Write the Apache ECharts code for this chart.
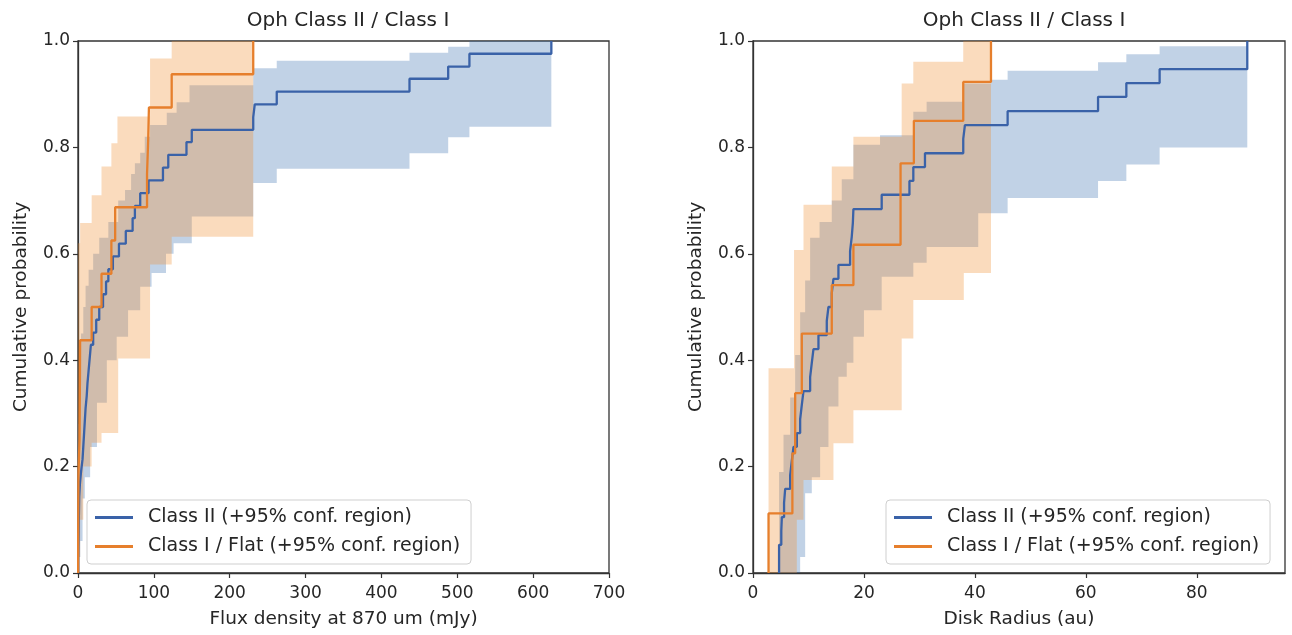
<!DOCTYPE html>
<html>
<head>
<meta charset="utf-8">
<script src="https://cdn.jsdelivr.net/npm/echarts@6/dist/echarts.min.js"></script>
<style>
  html, body { margin: 0; padding: 0; background: #fff; }
  #chart { width: 1292px; height: 635px; }
</style>
</head>
<body>
<div id="chart"></div>
<script>
// ---------- axis ticks ----------
const fluxTicks = [0, 100, 200, 300, 400, 500, 600, 700];
const radiusTicks = [0, 20, 40, 60, 80];
const probTicks = [0, 0.2, 0.4, 0.6, 0.8, 1.0];

const nameII = 'Class II (+95% conf. region)';
const nameI = 'Class I / Flat (+95% conf. region)';

// ---------- LEFT: flux density (mJy) ----------
// Class II cumulative step line
const fluxIIx = [0.3, 0.5, 0.8, 1.0, 1.3, 1.6, 2.5, 4, 6, 7, 8, 9, 10, 11.5, 12.5, 14, 15.5, 17, 20, 24, 28, 33, 37, 40, 46, 54, 63, 72, 75, 82, 93, 112, 119, 143, 150, 231, 233, 262, 437, 488, 516, 624];
const fluxIIp = [0.024, 0.048, 0.071, 0.095, 0.119, 0.143, 0.167, 0.190, 0.214, 0.238, 0.262, 0.286, 0.310, 0.333, 0.357, 0.381, 0.405, 0.429, 0.452, 0.476, 0.500, 0.524, 0.548, 0.571, 0.595, 0.619, 0.643, 0.667, 0.690, 0.714, 0.738, 0.762, 0.786, 0.810, 0.833, 0.857, 0.881, 0.905, 0.929, 0.952, 0.976, 1.0];
// Class I / Flat cumulative step line
const fluxIx = [0.2, 0.4, 0.6, 2.0, 2.3, 2.6, 2.8, 18, 31, 44, 49, 91, 92.5, 93.5, 123.5, 231];
const fluxIp = [0.0625, 0.125, 0.1875, 0.25, 0.3125, 0.375, 0.4375, 0.5, 0.5625, 0.625, 0.6875, 0.75, 0.8125, 0.875, 0.9375, 1.0];
// Class II confidence band (step edges: x starts + end, value per step)
const fluxIIHiX = [0, 1.6, 4, 7, 10, 14, 20, 28, 40, 53, 62, 70, 75, 82, 88, 95, 117, 130, 147, 231, 262, 437, 488, 516, 624];
const fluxIIHiP = [0.28, 0.38, 0.45, 0.5, 0.54, 0.57, 0.6, 0.63, 0.66, 0.70, 0.72, 0.75, 0.77, 0.79, 0.82, 0.842, 0.865, 0.885, 0.917, 0.949, 0.963, 0.978, 0.989, 1.0];
const fluxIILoX = [0, 1.6, 3, 6, 9, 16, 25, 38, 51, 66, 82, 97, 116, 126, 150, 231, 262, 437, 488, 516, 624];
const fluxIILoP = [0.0, 0.03, 0.06, 0.14, 0.18, 0.237, 0.32, 0.40, 0.444, 0.494, 0.538, 0.564, 0.6, 0.62, 0.67, 0.733, 0.76, 0.789, 0.819, 0.839];
// Class I / Flat confidence band
const fluxIHiX = [0, 2.8, 18, 31, 44, 52, 95, 123.5, 231];
const fluxIHiP = [0.62, 0.658, 0.71, 0.764, 0.808, 0.858, 0.967, 1.0];
const fluxILoX = [0, 2.8, 7, 18, 31, 53, 95, 123.5, 231];
const fluxILoP = [0.03, 0.1, 0.2, 0.245, 0.263, 0.403, 0.58, 0.632];

// ---------- RIGHT: disk radius (au) ----------
const radIIx = [4.7, 4.7, 5.1, 5.2, 5.6, 5.8, 6.7, 7.0, 7.3, 7.9, 8.5, 8.8, 9.1, 10.3, 10.6, 10.9, 11.8, 13.3, 13.6, 14.2, 14.5, 15.4, 17.5, 17.8, 18.0, 18.1, 23.2, 28.2, 28.9, 31.0, 37.9, 38.2, 45.9, 62.2, 67.3, 73.3, 89.1, 89.1];
const radIIp = [0.026, 0.053, 0.079, 0.105, 0.132, 0.158, 0.184, 0.211, 0.237, 0.263, 0.289, 0.316, 0.342, 0.368, 0.395, 0.421, 0.447, 0.474, 0.500, 0.526, 0.553, 0.579, 0.605, 0.632, 0.658, 0.684, 0.711, 0.737, 0.763, 0.789, 0.816, 0.842, 0.868, 0.895, 0.921, 0.947, 0.974, 1.0];
const radIx = [2.8, 7.1, 7.6, 8.8, 14.2, 18.1, 26.6, 26.6, 29.0, 37.9, 42.9];
const radIp = [0.112, 0.225, 0.338, 0.45, 0.541, 0.617, 0.694, 0.77, 0.85, 0.923, 1.0];
const radIIHiX = [4.7, 5.5, 6.7, 7.6, 8.5, 9.4, 10.3, 12.0, 14.2, 16.0, 18.1, 22.9, 28.9, 31.3, 37.9, 42.9, 45.9, 62.2, 67.3, 73.3, 89.1];
const radIIHiP = [0.19, 0.26, 0.33, 0.41, 0.49, 0.55, 0.63, 0.66, 0.70, 0.74, 0.805, 0.823, 0.867, 0.886, 0.92, 0.927, 0.944, 0.96, 0.975, 0.99];
const radIILoX = [4.7, 8.5, 9.4, 10.6, 12.1, 13.6, 15.4, 16.9, 18.1, 20.0, 23.2, 28.9, 31.3, 40.6, 45.9, 62.2, 67.3, 73.3, 89.1];
const radIILoP = [0.0, 0.03, 0.15, 0.18, 0.237, 0.313, 0.369, 0.395, 0.444, 0.494, 0.557, 0.583, 0.613, 0.676, 0.705, 0.737, 0.768, 0.80];
const radIHiX = [2.8, 7.4, 9.1, 14.2, 18.1, 26.8, 28.9, 37.9, 42.9];
const radIHiP = [0.385, 0.607, 0.692, 0.764, 0.82, 0.92, 0.961, 1.0];
const radILoX = [2.8, 7.9, 9.1, 14.5, 18.1, 26.8, 28.9, 38.0, 42.9];
const radILoP = [0.0, 0.1, 0.175, 0.244, 0.306, 0.441, 0.513, 0.564];

// ---------- styles ----------
const blueLine = '#3a62a8';
const orangeLine = '#e67f2c';
const blueFill = 'rgba(62,115,178,0.32)';
const orangeFill = 'rgba(240,142,50,0.32)';
const FONT = 'DejaVu Sans';
const TXT = '#262626';

function stepPairs(xs, ps) {
  const out = [[xs[0], 0]];
  for (let i = 0; i < xs.length; i++) out.push([xs[i], ps[i]]);
  return out;
}

function lineSeries(name, xi, xs, ps, color, z) {
  return {
    type: 'line', name: name, xAxisIndex: xi, yAxisIndex: xi,
    step: 'end', showSymbol: false, symbol: 'none',
    data: stepPairs(xs, ps),
    lineStyle: { color: color, width: 2.3 },
    itemStyle: { color: color },
    z: z, silent: true, animation: false
  };
}

function bandSeries(xi, hiX, hiP, loX, loP, color, z) {
  return {
    type: 'custom', xAxisIndex: xi, yAxisIndex: xi, silent: true, z: z,
    animation: false,
    data: [[hiX[0], hiP[0]]],
    encode: { x: 0, y: 1 },
    renderItem: function (params, api) {
      const pts = [];
      for (let i = 0; i < hiP.length; i++) {
        pts.push(api.coord([hiX[i], hiP[i]]));
        pts.push(api.coord([hiX[i + 1], hiP[i]]));
      }
      for (let i = loP.length - 1; i >= 0; i--) {
        pts.push(api.coord([loX[i + 1], loP[i]]));
        pts.push(api.coord([loX[i], loP[i]]));
      }
      return { type: 'polygon', shape: { points: pts }, style: { fill: color } };
    }
  };
}

function xAxis(gi, max, ticks, name) {
  return {
    type: 'value', gridIndex: gi, min: 0, max: max, interval: 20,
    name: name, nameLocation: 'middle', nameGap: 37,
    nameTextStyle: { fontSize: 18.5, fontFamily: FONT, color: TXT },
    axisLine: { show: true, onZero: false, lineStyle: { color: '#333', width: 1.3 } },
    axisTick: { show: true, inside: false, length: 5, customValues: ticks, lineStyle: { color: '#333', width: 1.2 } },
    axisLabel: { customValues: ticks, margin: 12, fontSize: 17, fontFamily: FONT, color: TXT,
      formatter: function (v) { return ticks.indexOf(v) >= 0 ? String(v) : ''; } },
    splitLine: { show: false }
  };
}

function yAxis(gi) {
  return {
    type: 'value', gridIndex: gi, min: 0, max: 1, interval: 0.2,
    name: 'Cumulative probability', nameLocation: 'middle', nameGap: 47,
    nameTextStyle: { fontSize: 18.5, fontFamily: FONT, color: TXT },
    axisLine: { show: true, onZero: false, lineStyle: { color: '#333', width: 1.3 } },
    axisTick: { show: true, inside: false, length: 5, customValues: probTicks, lineStyle: { color: '#333', width: 1.2 } },
    axisLabel: { customValues: probTicks, margin: 8, fontSize: 17, fontFamily: FONT, color: TXT,
      formatter: function (v) { return v.toFixed(1); } },
    splitLine: { show: false }
  };
}

function legend(left) {
  return {
    show: true, orient: 'vertical', left: left, top: 500,
    data: [nameII, nameI], icon: 'rect', itemWidth: 38, itemHeight: 3, itemGap: 10,
    padding: [8, 11, 8, 8], borderColor: '#cfcfcf', borderWidth: 1, borderRadius: 4,
    backgroundColor: 'rgba(255,255,255,0.85)', selectedMode: false,
    textStyle: { fontSize: 19, fontFamily: FONT, color: TXT, padding: [0, 0, 0, 10] }
  };
}

const chart = echarts.init(document.getElementById('chart'), null, { renderer: 'canvas' });
chart.setOption({
  animation: false,
  backgroundColor: '#fff',
  title: [
    { text: 'Oph Class II / Class I', left: 343, top: 6, textAlign: 'center',
      textStyle: { fontSize: 20, fontWeight: 'normal', fontFamily: FONT, color: TXT } },
    { text: 'Oph Class II / Class I', left: 1019, top: 6, textAlign: 'center',
      textStyle: { fontSize: 20, fontWeight: 'normal', fontFamily: FONT, color: TXT } }
  ],
  grid: [
    { left: 78, top: 41, width: 531, height: 532, show: true, borderColor: '#333', borderWidth: 1.3, backgroundColor: 'transparent' },
    { left: 753, top: 41, width: 532, height: 532, show: true, borderColor: '#333', borderWidth: 1.3, backgroundColor: 'transparent' }
  ],
  xAxis: [
    Object.assign(xAxis(0, 700, fluxTicks, 'Flux density at 870 um (mJy)'), { interval: 100 }),
    xAxis(1, 95.9, radiusTicks, 'Disk Radius (au)')
  ],
  yAxis: [yAxis(0), yAxis(1)],
  legend: [legend(87), legend(886)],
  series: [
    bandSeries(0, fluxIIHiX, fluxIIHiP, fluxIILoX, fluxIILoP, blueFill, 1),
    bandSeries(0, fluxIHiX, fluxIHiP, fluxILoX, fluxILoP, orangeFill, 2),
    lineSeries(nameII, 0, fluxIIx, fluxIIp, blueLine, 3),
    lineSeries(nameI, 0, fluxIx, fluxIp, orangeLine, 4),
    bandSeries(1, radIIHiX, radIIHiP, radIILoX, radIILoP, blueFill, 1),
    bandSeries(1, radIHiX, radIHiP, radILoX, radILoP, orangeFill, 2),
    lineSeries(nameII, 1, radIIx, radIIp, blueLine, 3),
    lineSeries(nameI, 1, radIx, radIp, orangeLine, 4)
  ]
});
</script>
</body>
</html>
